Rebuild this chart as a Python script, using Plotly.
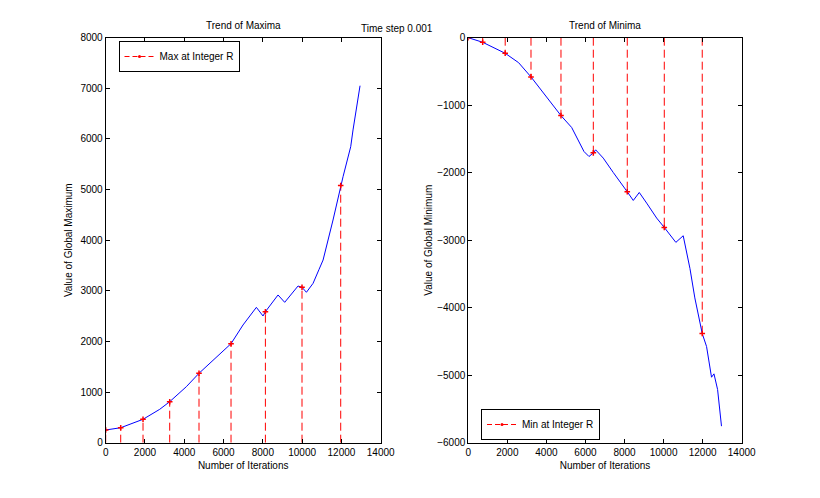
import plotly.graph_objects as go

# ---- data ----
r_iter_max = [0, 764, 1900, 3258, 4750, 6380, 8130, 9994, 11964]
max_at_r = [251, 296, 462, 810, 1371, 1956, 2588, 3070, 5080]

r_iter_min = [0, 737, 1889, 3210, 4746, 6402, 8141, 10036, 11980]
min_at_r = [0, -68, -231, -581, -1154, -1706, -2283, -2811, -4383]

max_curve_x = [0, 764, 1900, 2749, 3258, 4107, 4750, 5464, 6380, 6990, 7670, 8009, 8130,
               8773, 9112, 9791, 9994, 10218, 10557, 10862, 11066, 11573, 11964, 12083,
               12473, 12591, 12948]
max_curve_y = [251, 296, 462, 659, 810, 1107, 1371, 1634, 1956, 2325, 2674, 2503, 2588,
               2918, 2773, 3095, 3070, 2971, 3148, 3424, 3608, 4399, 5070, 5254,
               5847, 6178, 7052]

min_curve_x = [0, 737, 1889, 2576, 3210, 4013, 4746, 5293, 5582, 5684, 5923, 6179, 6402,
               6521, 6912, 7424, 7851, 8141, 8448, 8755, 9133, 9645, 10036, 10628, 11005,
               11351, 11600, 11980, 12200, 12455, 12580, 12765, 12965]
min_curve_y = [0, -68, -231, -370, -581, -873, -1154, -1330, -1488, -1562, -1686, -1760, -1706,
               -1661, -1784, -1997, -2179, -2283, -2411, -2293, -2450, -2672, -2811, -3032, -2934,
               -3421, -3855, -4383, -4575, -5030, -4980, -5212, -5755]

x_ticks = [0, 2000, 4000, 6000, 8000, 10000, 12000, 14000]
max_ticks = [0, 1000, 2000, 3000, 4000, 5000, 6000, 7000, 8000]
min_ticks = [-6000, -5000, -4000, -3000, -2000, -1000, 0]

FONT = "Liberation Sans, Arial, sans-serif"
RED = "#ff0000"
BLUE = "#0000ff"
DASH = "8px,4px"


def stems(xs, ys):
    sx, sy = [], []
    for x, y in zip(xs, ys):
        sx += [x, x, None]
        sy += [0, y, None]
    return sx, sy


fig = go.Figure()

# ---- left: maxima ----
sx, sy = stems(r_iter_max, max_at_r)
fig.add_trace(go.Scatter(x=sx, y=sy, mode="lines", line=dict(color=RED, width=1, dash=DASH),
                         showlegend=False, xaxis="x", yaxis="y", hoverinfo="skip"))
fig.add_trace(go.Scatter(x=max_curve_x, y=max_curve_y, mode="lines", line=dict(color=BLUE, width=1),
                         showlegend=False, xaxis="x", yaxis="y"))
fig.add_trace(go.Scatter(x=r_iter_max, y=max_at_r, mode="markers",
                         marker=dict(color=RED, symbol="cross-thin", size=4,
                                     line=dict(color=RED, width=1.5)),
                         showlegend=False, xaxis="x", yaxis="y"))
fig.add_trace(go.Scatter(x=[None], y=[None], mode="lines+markers", name="Max at Integer R",
                         line=dict(color=RED, width=1, dash="5px,3px"),
                         marker=dict(color=RED, symbol="circle", size=3),
                         xaxis="x", yaxis="y", legend="legend"))

# ---- right: minima ----
sx, sy = stems(r_iter_min, min_at_r)
fig.add_trace(go.Scatter(x=sx, y=sy, mode="lines", line=dict(color=RED, width=1, dash=DASH),
                         showlegend=False, xaxis="x2", yaxis="y2", hoverinfo="skip"))
fig.add_trace(go.Scatter(x=min_curve_x, y=min_curve_y, mode="lines", line=dict(color=BLUE, width=1),
                         showlegend=False, xaxis="x2", yaxis="y2"))
fig.add_trace(go.Scatter(x=r_iter_min, y=min_at_r, mode="markers",
                         marker=dict(color=RED, symbol="cross-thin", size=4,
                                     line=dict(color=RED, width=1.5)),
                         showlegend=False, xaxis="x2", yaxis="y2"))
fig.add_trace(go.Scatter(x=[None], y=[None], mode="lines+markers", name="Min at Integer R",
                         line=dict(color=RED, width=1, dash="5px,3px"),
                         marker=dict(color=RED, symbol="circle", size=3),
                         xaxis="x2", yaxis="y2", legend="legend2"))

W, H = 820, 498
OX, OY = 8, 8  # page body offset


def fx(px):
    return (px - OX) / W


def fy(py):
    return 1 - (py - OY) / H


ydom = [fy(442.7), fy(37.7)]

axis_common = dict(showgrid=False, zeroline=False, showline=True, linecolor="#000000", linewidth=1,
                   mirror="ticks", ticks="inside", ticklen=4, tickcolor="#000000",
                   automargin=False, tickformat="d",
                   tickfont=dict(family=FONT, size=10, color="#000000"))

fig.update_layout(
    width=W, height=H,
    margin=dict(l=0, r=0, t=0, b=0, autoexpand=False),
    paper_bgcolor="white", plot_bgcolor="white",
    font=dict(family=FONT, size=10, color="#000000"),
    xaxis=dict(domain=[fx(105.7), fx(380.7)], range=[0, 14000], tickvals=x_ticks,
               title=dict(text="Number of Iterations", font=dict(size=10), standoff=5),
               anchor="y", **axis_common),
    yaxis=dict(domain=ydom, range=[0, 8000], tickvals=max_ticks,
               title=dict(text="Value of Global Maximum", font=dict(size=10), standoff=5),
               anchor="x", **axis_common),
    xaxis2=dict(domain=[fx(468.3), fx(741.7)], range=[0, 14000], tickvals=x_ticks,
                title=dict(text="Number of Iterations", font=dict(size=10), standoff=5),
                anchor="y2", **axis_common),
    yaxis2=dict(domain=ydom, range=[-6000, 0], tickvals=min_ticks,
                title=dict(text="Value of Global Minimum", font=dict(size=10), standoff=2),
                anchor="x2", **axis_common),
    legend=dict(x=fx(118.5), y=fy(41), xanchor="left", yanchor="top",
                bordercolor="#000000", borderwidth=1, bgcolor="white",
                font=dict(family=FONT, size=10), tracegroupgap=0),
    legend2=dict(x=fx(481), y=fy(440), xanchor="left", yanchor="bottom",
                 bordercolor="#000000", borderwidth=1, bgcolor="white",
                 font=dict(family=FONT, size=10), tracegroupgap=0),
    annotations=[
        dict(text="Trend of Maxima", x=fx((105.7 + 380.7) / 2), y=fy(33), xref="paper",
             yref="paper", xanchor="center", yanchor="bottom", showarrow=False,
             font=dict(family=FONT, size=10)),
        dict(text="Trend of Minima", x=fx((468.3 + 741.7) / 2), y=fy(33), xref="paper",
             yref="paper", xanchor="center", yanchor="bottom", showarrow=False,
             font=dict(family=FONT, size=10)),
        dict(text="Time step 0.001", x=fx(397), y=fy(29), xref="paper",
             yref="paper", xanchor="center", yanchor="middle", showarrow=False,
             font=dict(family=FONT, size=10)),
    ],
)

fig.write_html("out.html")
